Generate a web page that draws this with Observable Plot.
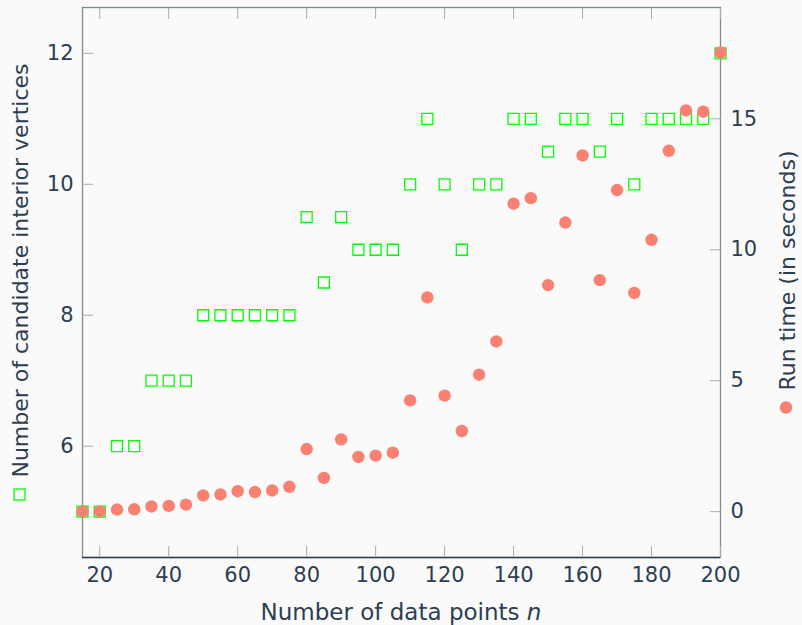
<!DOCTYPE html>
<html>
<head>
<meta charset="utf-8">
<script src="https://cdn.jsdelivr.net/npm/d3@7"></script>
<script src="https://cdn.jsdelivr.net/npm/@observablehq/plot@0.6"></script>
<style>
  html, body { margin: 0; padding: 0; background: #fafafa; }
  #chart { width: 802px; height: 625px; }
</style>
</head>
<body>
<div id="chart"></div>
<script>
// ---- data ----
const nValues = [15,20,25,30,35,40,45,50,55,60,65,70,75,80,85,90,95,100,105,110,115,120,125,130,135,140,145,150,155,160,165,170,175,180,185,190,195,200];
const vertices = [5,5,6,6,7,7,7,8,8,8,8,8,8,9.5,8.5,9.5,9,9,9,10,11,10,9,10,10,11,11,10.5,11,11,10.5,11,10,11,11,11,11,12];
const runTime = [0.01,0.01,0.08,0.09,0.2,0.22,0.27,0.62,0.66,0.78,0.75,0.81,0.95,2.39,1.29,2.76,2.09,2.14,2.25,4.25,8.18,4.43,3.08,5.23,6.5,11.76,11.97,8.65,11.04,13.6,8.84,12.28,8.35,10.38,13.78,15.32,15.27,17.53];
const xTicks = [20,40,60,80,100,120,140,160,180,200];
const leftTicks = [6,8,10,12];
const rightTicks = [0,5,10,15];
const xDomain = [15,200];
const leftDomain = [4.3,12.7];
// right axis (seconds) mapped onto left axis units: left = 5 + 0.4 * t
const toLeft = t => 5 + 0.4 * t;
const fromLeft = v => (v - 5) / 0.4;

const xLabel = "Number of data points ";
const leftLabel = "Number of candidate interior vertices";
const rightLabel = "Run time (in seconds)";

const rows = nValues.map((n, i) => ({n, v: vertices[i], t: runTime[i]}));

const green = "#00ff00";
const red = "#fa8072";
const textColor = "#2c3e50";
const tickColor = "#aaaaaa";

const W = 802, H = 625, mL = 82, mR = 82, mT = 7, mB = 68;

const chart = Plot.plot({
  width: W, height: H,
  marginLeft: mL, marginRight: mR, marginTop: mT, marginBottom: mB,
  style: {background: "#fafafa", fontFamily: "DejaVu Sans", fontSize: "21px", color: textColor},
  x: {domain: xDomain},
  y: {domain: leftDomain},
  marks: [
    Plot.frame({stroke: "#7f8c8d", strokeWidth: 1.3}),
    Plot.ruleY([leftDomain[0]], {stroke: textColor, strokeWidth: 1.5}),
    Plot.axisX({ticks: xTicks, tickSize: -11, tickPadding: 21, stroke: tickColor, fill: textColor, label: null}),
    Plot.axisX({anchor: "top", ticks: xTicks, tickSize: -11, tickFormat: () => "", stroke: tickColor, label: null}),
    Plot.axisY({ticks: leftTicks, tickSize: -11, tickPadding: 20, stroke: tickColor, fill: textColor, label: null}),
    Plot.axisY({anchor: "right", ticks: rightTicks.map(toLeft), tickFormat: v => String(Math.round(fromLeft(v))), tickSize: -11, tickPadding: 21, stroke: tickColor, fill: textColor, label: null}),
    Plot.dot(rows, {x: "n", y: "v", symbol: "square", r: 6.2, stroke: green, strokeWidth: 1.3, fill: "none"}),
    Plot.dot(rows, {x: "n", y: d => toLeft(d.t), r: 6.2, fill: red, stroke: "none"})
  ]
});

document.getElementById("chart").appendChild(chart);

// ---- axis titles with legend markers ----
const svg = d3.select(chart);
const midY = (mT + (H - mB)) / 2;
const midX = (mL + (W - mR)) / 2;

// x title
const xt = svg.append("text")
  .attr("x", midX).attr("y", 620)
  .attr("text-anchor", "middle")
  .attr("fill", textColor)
  .style("font-family", "DejaVu Sans").style("font-size", "23px");
xt.append("tspan").text(xLabel);
xt.append("tspan").attr("font-style", "italic").text("n");

function verticalTitle(label, baselineX, markerCenterX, drawMarker) {
  const g = svg.append("g");
  const t = g.append("text")
    .attr("fill", textColor)
    .attr("text-anchor", "start")
    .style("font-family", "DejaVu Sans").style("font-size", "22px")
    .text(label);
  const L = t.node().getComputedTextLength();
  const marker = 12, gap = 11;
  const total = marker + gap + L;
  const bottom = midY + total / 2;             // lowest point (marker bottom)
  const textStart = bottom - marker - gap;     // where the text begins (reads upward)
  t.attr("transform", `translate(${baselineX},${textStart}) rotate(-90)`);
  drawMarker(g, markerCenterX, bottom - marker / 2);
}

verticalTitle(leftLabel, 28, 19.5, (g, cx, cy) => {
  g.append("rect").attr("x", cx - 5.5).attr("y", cy - 5.5).attr("width", 11).attr("height", 11)
    .attr("fill", "none").attr("stroke", green).attr("stroke-width", 1.3);
});
verticalTitle(rightLabel, 795, 786, (g, cx, cy) => {
  g.append("circle").attr("cx", cx).attr("cy", cy).attr("r", 6.2).attr("fill", red);
});
</script>
</body>
</html>
